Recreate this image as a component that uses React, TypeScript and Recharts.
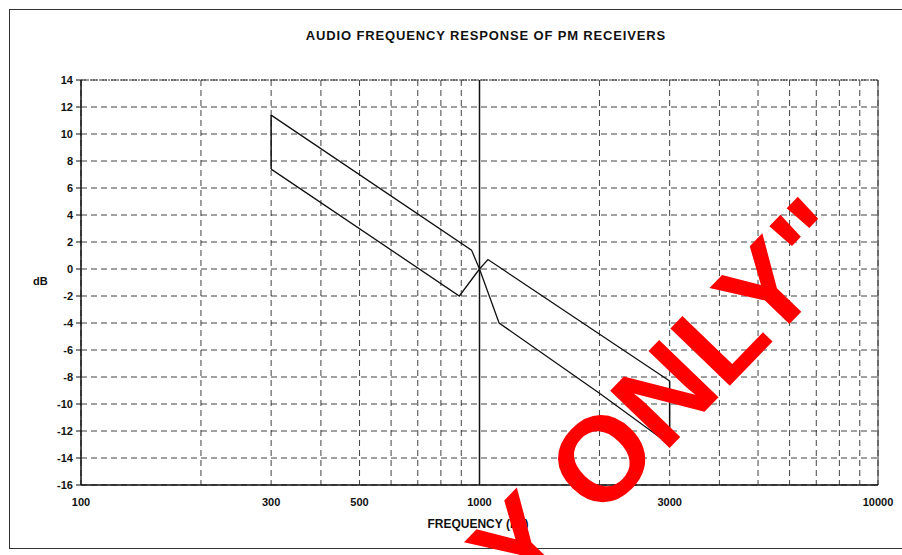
import React from 'react'
import { ComposedChart, Line, XAxis, YAxis, CartesianGrid, ReferenceLine } from 'recharts'

// frequency grid (log scale), only some of them get a label
const frequencyTicks = [
  100, 200, 300, 400, 500, 600, 700, 800, 900,
  1000, 2000, 3000, 4000, 5000, 6000, 7000, 8000, 9000, 10000,
]
const labelledFrequencies = [100, 300, 500, 1000, 3000, 10000]
const dbTicks = [-16, -14, -12, -10, -8, -6, -4, -2, 0, 2, 4, 6, 8, 10, 12, 14]

// limit lines (freq in Hz, level in dB)
const limitLineA = [
  { freq: 300, db: 11.4 },
  { freq: 955, db: 1.4 },
  { freq: 1000, db: 0 },
  { freq: 1120, db: -4 },
  { freq: 2000, db: -9.2 },
  { freq: 3000, db: -13 },
]
const limitLineB = [
  { freq: 300, db: 7.4 },
  { freq: 890, db: -2 },
  { freq: 1000, db: 0 },
  { freq: 1050, db: 0.7 },
  { freq: 3000, db: -8.3 },
]
const lowEdge = [
  { freq: 300, db: 7.4 },
  { freq: 300, db: 11.4 },
]
const highEdge = [
  { freq: 3000, db: -8.3 },
  { freq: 3000, db: -13 },
]

const FONT = '"Liberation Sans", Arial, sans-serif'

const FrequencyTick = (props: any) => {
  const { x, y, payload } = props
  if (!labelledFrequencies.includes(payload.value)) return <g />
  return (
    <text x={x} y={y} dy={13} textAnchor="middle" fontSize={11} fontWeight="bold" fontFamily={FONT} fill="#111">
      {payload.value}
    </text>
  )
}

export default function App() {
  return (
    <div style={{ position: 'absolute', left: 0, top: 0, width: 902, height: 555, background: '#fff', overflow: 'hidden' }}>
      {/* outer frame */}
      <div style={{ position: 'absolute', left: 9, top: 9, width: 900, height: 538, border: '1.5px solid #333' }} />

      <div style={{ position: 'absolute', left: 0, top: 28, width: 972, textAlign: 'center', fontFamily: FONT, fontWeight: 'bold', fontSize: 13, letterSpacing: 0.85, color: '#111' }}>
        AUDIO FREQUENCY RESPONSE OF PM RECEIVERS
      </div>

      <div style={{ position: 'absolute', left: 33, top: 275, fontFamily: FONT, fontWeight: 'bold', fontSize: 11, color: '#111' }}>
        dB
      </div>

      <div style={{ position: 'absolute', left: 378, top: 517, width: 200, textAlign: 'center', fontFamily: FONT, fontWeight: 'bold', fontSize: 12, color: '#111' }}>
        FREQUENCY (Hz)
      </div>

      <div style={{ position: 'absolute', left: 0, top: 0 }}>
        <ComposedChart width={902} height={555} margin={{ top: 80, right: 24, bottom: 40, left: 41 }}>
          <CartesianGrid stroke="#111" strokeWidth={0.8} strokeDasharray="6 4" />
          <XAxis
            type="number"
            dataKey="freq"
            scale="log"
            domain={[100, 10000]}
            ticks={frequencyTicks}
            interval={0}
            allowDataOverflow
            tick={<FrequencyTick />}
            tickLine={false}
            axisLine={{ stroke: '#111', strokeWidth: 1.5 }}
            height={30}
          />
          <YAxis
            type="number"
            domain={[-16, 14]}
            ticks={dbTicks}
            interval={0}
            width={40}
            tickSize={5}
            tickMargin={3}
            tickLine={{ stroke: '#111' }}
            axisLine={{ stroke: '#111', strokeWidth: 1.5 }}
            tick={{ fontSize: 11, fontWeight: 'bold', fill: '#111', fontFamily: FONT }}
          />
          <ReferenceLine y={14} stroke="#333" strokeDasharray="2 1" strokeWidth={1} />
          <ReferenceLine x={10000} stroke="#333" strokeWidth={1} />
          <ReferenceLine x={1000} stroke="#111" strokeWidth={1.5} />

          <Line data={limitLineA} dataKey="db" stroke="#111" strokeWidth={1.3} dot={false} isAnimationActive={false} />
          <Line data={limitLineB} dataKey="db" stroke="#111" strokeWidth={1.3} dot={false} isAnimationActive={false} />
          <Line data={lowEdge} dataKey="db" stroke="#111" strokeWidth={1.5} dot={false} isAnimationActive={false} />
          <Line data={highEdge} dataKey="db" stroke="#111" strokeWidth={1.5} dot={false} isAnimationActive={false} />
        </ComposedChart>
      </div>

      {/* red stamp over the chart */}
      <svg width={902} height={555} style={{ position: 'absolute', left: 0, top: 0, pointerEvents: 'none' }}>
        <text
          x={522}
          y={601}
          transform="rotate(-46 522 601)"
          fontSize={120}
          fontWeight="bold"
          fontFamily={FONT}
          fill="#ff0000"
        >
          Y ONLY"
        </text>
      </svg>
    </div>
  )
}
